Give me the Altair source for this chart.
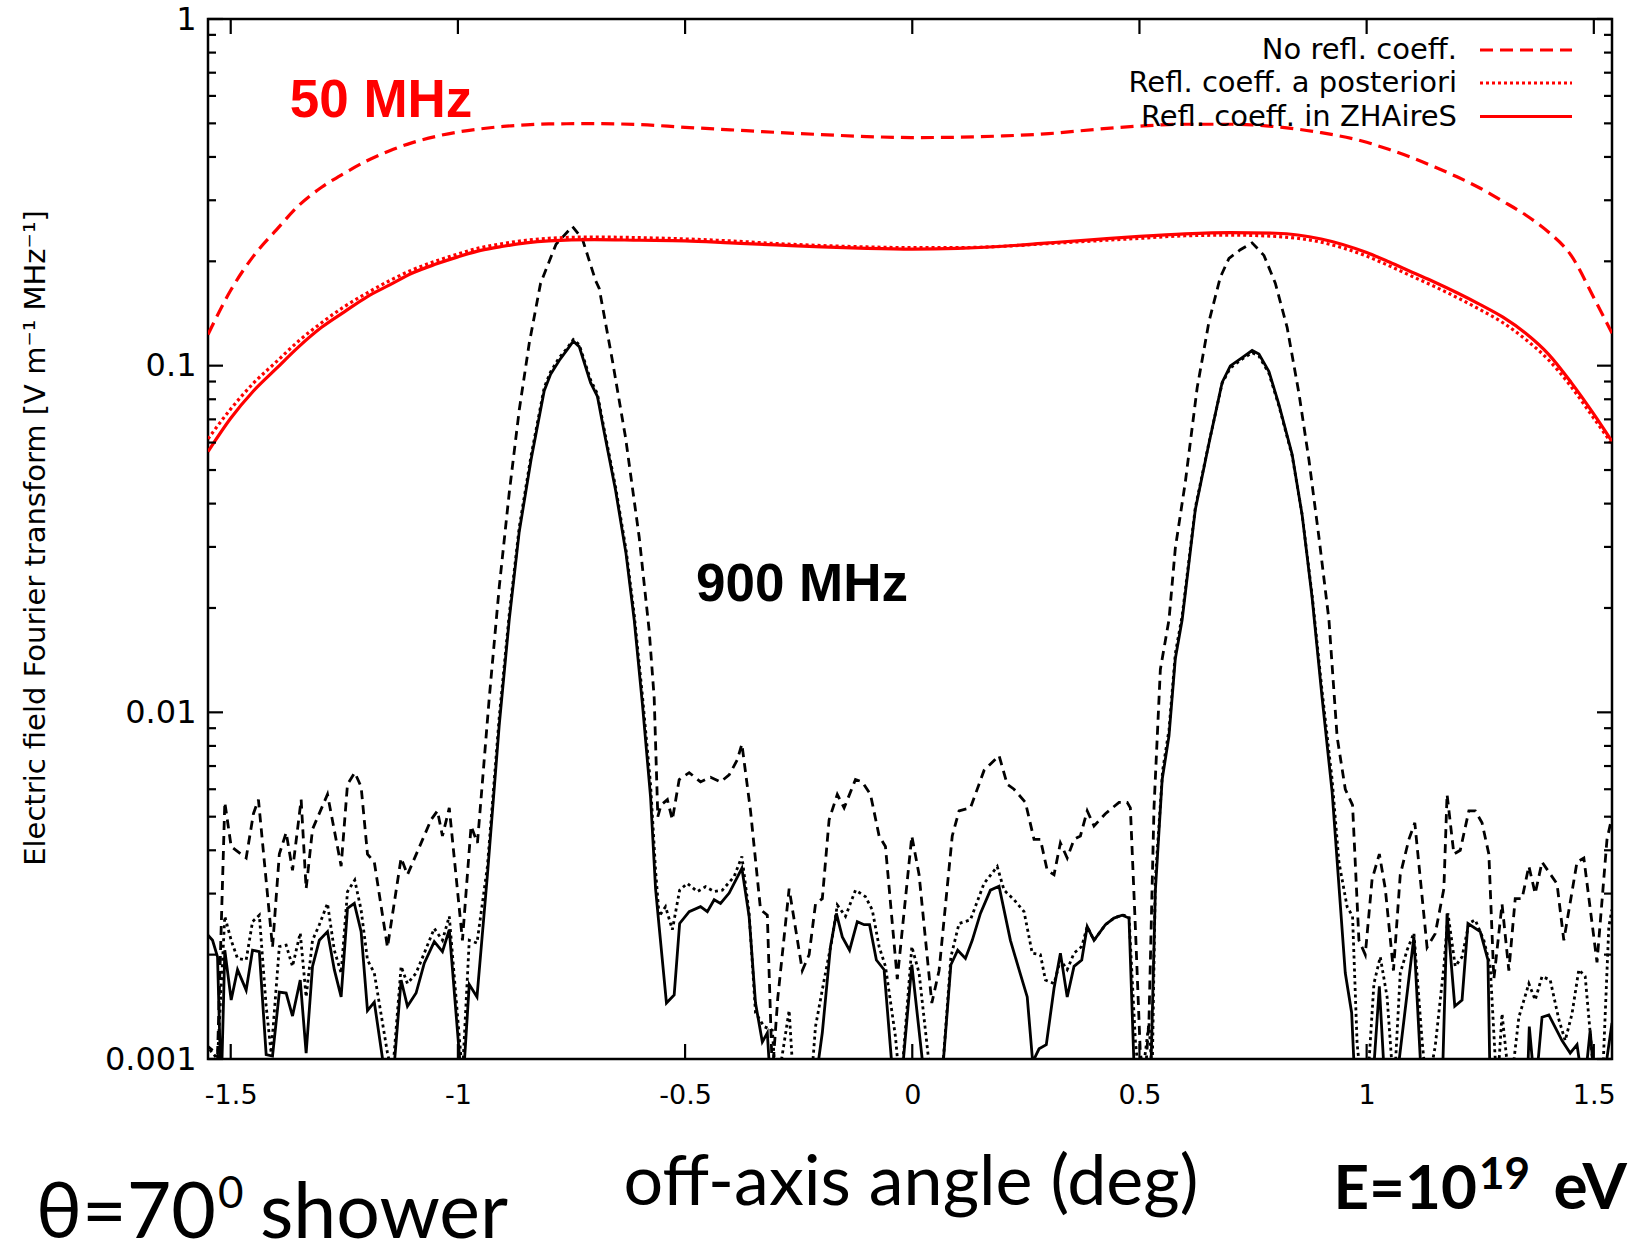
import altair as alt
import pandas as pd

# ---------------- data ----------------
# 50 MHz curves: (angle, no refl. coeff., refl. coeff. a posteriori, refl. coeff. in ZHAireS)
red_curves = [
    (-1.55, 0.123, 0.0615, 0.0565), (-1.50, 0.165, 0.075, 0.0705), (-1.45, 0.207, 0.089, 0.0845),
    (-1.40, 0.246, 0.1025, 0.098), (-1.35, 0.290, 0.118, 0.1135), (-1.30, 0.327, 0.133, 0.129),
    (-1.25, 0.359, 0.148, 0.143), (-1.20, 0.390, 0.162, 0.158), (-1.15, 0.417, 0.176, 0.171),
    (-1.10, 0.440, 0.189, 0.185), (-1.05, 0.458, 0.200, 0.196), (-1.00, 0.472, 0.210, 0.206),
    (-0.95, 0.482, 0.219, 0.215), (-0.90, 0.490, 0.225, 0.221), (-0.85, 0.495, 0.230, 0.226),
    (-0.80, 0.498, 0.233, 0.229), (-0.70, 0.499, 0.235, 0.231), (-0.60, 0.496, 0.234, 0.230),
    (-0.50, 0.487, 0.232, 0.229), (-0.40, 0.479, 0.229, 0.226), (-0.30, 0.471, 0.225, 0.223),
    (-0.20, 0.464, 0.222, 0.220), (-0.10, 0.458, 0.220, 0.218), (0.00, 0.455, 0.219, 0.217),
    (0.10, 0.456, 0.219, 0.218), (0.20, 0.460, 0.221, 0.221), (0.30, 0.467, 0.225, 0.226),
    (0.40, 0.480, 0.229, 0.231), (0.50, 0.491, 0.233, 0.236), (0.60, 0.497, 0.237, 0.240),
    (0.70, 0.497, 0.238, 0.242), (0.80, 0.489, 0.236, 0.241), (0.90, 0.470, 0.227, 0.232),
    (1.00, 0.441, 0.207, 0.212), (1.05, 0.420, 0.194, 0.199), (1.10, 0.398, 0.181, 0.186),
    (1.15, 0.374, 0.169, 0.174), (1.20, 0.350, 0.157, 0.162), (1.25, 0.325, 0.145, 0.150),
    (1.30, 0.298, 0.133, 0.138), (1.35, 0.272, 0.119, 0.124), (1.40, 0.243, 0.104, 0.108),
    (1.45, 0.208, 0.087, 0.0895), (1.50, 0.157, 0.0705, 0.0725), (1.54, 0.124, 0.0595, 0.0605),
]

# 900 MHz, no reflection coefficient (angle, field)
black_no_refl = [
    (-1.555, 0.0011), (-1.529, 0.00103), (-1.513, 0.0055), (-1.499, 0.0041), (-1.466, 0.0038),
    (-1.450, 0.0051), (-1.439, 0.0056), (-1.408, 0.0021), (-1.393, 0.0039), (-1.378, 0.0045),
    (-1.364, 0.0035), (-1.345, 0.0056), (-1.334, 0.0031), (-1.320, 0.0046), (-1.287, 0.0058),
    (-1.257, 0.0036), (-1.243, 0.0062), (-1.227, 0.0067), (-1.213, 0.0061), (-1.199, 0.0039),
    (-1.184, 0.0037), (-1.155, 0.0021), (-1.125, 0.0038), (-1.111, 0.0034), (-1.059, 0.0049),
    (-1.045, 0.0052), (-1.034, 0.0044), (-1.019, 0.0053), (-0.990, 0.0022), (-0.971, 0.0047),
    (-0.957, 0.0042), (-0.931, 0.0110), (-0.909, 0.0230), (-0.887, 0.0430), (-0.865, 0.0745),
    (-0.843, 0.116), (-0.818, 0.173), (-0.784, 0.224), (-0.748, 0.252), (-0.726, 0.232),
    (-0.697, 0.176), (-0.689, 0.167), (-0.660, 0.1035), (-0.631, 0.062), (-0.601, 0.032),
    (-0.579, 0.0172), (-0.568, 0.0110), (-0.560, 0.0050), (-0.553, 0.0054), (-0.539, 0.0056),
    (-0.528, 0.0049), (-0.513, 0.0064), (-0.491, 0.0067), (-0.466, 0.0063), (-0.444, 0.0065),
    (-0.422, 0.0063), (-0.403, 0.0066), (-0.385, 0.0073), (-0.375, 0.0081), (-0.356, 0.0052),
    (-0.334, 0.0027), (-0.319, 0.0026), (-0.308, 0.0009), (-0.296, 0.0015), (-0.271, 0.0031),
    (-0.242, 0.0018), (-0.227, 0.0020), (-0.213, 0.0028), (-0.198, 0.0029), (-0.183, 0.0049),
    (-0.165, 0.0058), (-0.150, 0.0053), (-0.125, 0.0064), (-0.110, 0.0063), (-0.092, 0.0058),
    (-0.073, 0.0044), (-0.059, 0.0041), (-0.033, 0.0017), (-0.001, 0.0044), (0.015, 0.0034),
    (0.043, 0.00145), (0.059, 0.0018), (0.088, 0.0044), (0.103, 0.0052), (0.128, 0.0053),
    (0.158, 0.0068), (0.191, 0.0075), (0.209, 0.0062), (0.224, 0.0060), (0.249, 0.0055),
    (0.268, 0.0043), (0.282, 0.0043), (0.297, 0.0035), (0.312, 0.0034), (0.326, 0.0042),
    (0.341, 0.0038), (0.356, 0.0043), (0.370, 0.0044), (0.385, 0.0052), (0.400, 0.0047),
    (0.425, 0.0051), (0.455, 0.0055), (0.473, 0.0055), (0.480, 0.0053), (0.491, 0.0024),
    (0.502, 0.00103), (0.513, 0.0009), (0.521, 0.0013), (0.532, 0.0053), (0.546, 0.0133),
    (0.565, 0.0185), (0.579, 0.0298), (0.601, 0.0462), (0.627, 0.0863), (0.653, 0.134),
    (0.678, 0.180), (0.697, 0.204), (0.722, 0.216), (0.748, 0.226), (0.774, 0.208),
    (0.799, 0.173), (0.825, 0.129), (0.851, 0.0832), (0.873, 0.0535), (0.895, 0.032),
    (0.917, 0.0185), (0.935, 0.0085), (0.953, 0.0060), (0.969, 0.0054), (0.983, 0.0022),
    (0.997, 0.0020), (1.012, 0.0033), (1.028, 0.0039), (1.041, 0.0031), (1.059, 0.0018),
    (1.074, 0.0034), (1.093, 0.0043), (1.106, 0.0048), (1.133, 0.0021), (1.151, 0.0023),
    (1.170, 0.0031), (1.177, 0.0058), (1.192, 0.0039), (1.206, 0.0040), (1.225, 0.0052),
    (1.239, 0.0052), (1.254, 0.0048), (1.269, 0.0039), (1.280, 0.0017), (1.298, 0.0028),
    (1.313, 0.0018), (1.327, 0.0029), (1.342, 0.0029), (1.357, 0.0036), (1.371, 0.0030),
    (1.386, 0.0037), (1.419, 0.0032), (1.434, 0.0022), (1.463, 0.0037), (1.478, 0.0038),
    (1.507, 0.0019), (1.529, 0.0043), (1.540, 0.0050),
]

# 900 MHz, reflection coefficient applied a posteriori
black_posteriori = [
    (-1.555, 0.0011), (-1.529, 0.0010), (-1.513, 0.00258), (-1.499, 0.0022), (-1.485, 0.00195),
    (-1.466, 0.00193), (-1.452, 0.00249), (-1.437, 0.0026), (-1.422, 0.00142), (-1.411, 0.00104),
    (-1.393, 0.00211), (-1.378, 0.00213), (-1.364, 0.00185), (-1.347, 0.00231), (-1.334, 0.00151),
    (-1.320, 0.0022), (-1.305, 0.00244), (-1.287, 0.00281), (-1.272, 0.00206), (-1.257, 0.00177),
    (-1.243, 0.00304), (-1.227, 0.00328), (-1.213, 0.00269), (-1.199, 0.00193), (-1.184, 0.00177),
    (-1.155, 0.00104), (-1.144, 0.0009), (-1.125, 0.00185), (-1.111, 0.00165), (-1.092, 0.00177),
    (-1.074, 0.00202), (-1.052, 0.00238), (-1.034, 0.0022), (-1.019, 0.00258), (-0.990, 0.0009),
    (-0.975, 0.0022), (-0.958, 0.00216), (-0.935, 0.0036), (-0.909, 0.0097), (-0.887, 0.0192),
    (-0.865, 0.0342), (-0.839, 0.055), (-0.810, 0.0865), (-0.796, 0.096), (-0.777, 0.1055),
    (-0.759, 0.1125), (-0.746, 0.119), (-0.733, 0.115), (-0.708, 0.091), (-0.693, 0.083),
    (-0.678, 0.0655), (-0.653, 0.0447), (-0.630, 0.0295), (-0.612, 0.0192), (-0.594, 0.0112),
    (-0.576, 0.0062), (-0.565, 0.0035), (-0.557, 0.00258), (-0.543, 0.00275), (-0.528, 0.00236),
    (-0.512, 0.00307), (-0.495, 0.00321), (-0.473, 0.00304), (-0.455, 0.00314), (-0.436, 0.00304),
    (-0.418, 0.00307), (-0.392, 0.00336), (-0.375, 0.00384), (-0.359, 0.00263), (-0.345, 0.00136),
    (-0.326, 0.00124), (-0.308, 0.00121), (-0.299, 0.0008), (-0.271, 0.00138), (-0.260, 0.0008),
    (-0.224, 0.0008), (-0.213, 0.00124), (-0.194, 0.00169), (-0.177, 0.0022), (-0.165, 0.00278),
    (-0.147, 0.00258), (-0.125, 0.00307), (-0.103, 0.00294), (-0.088, 0.00269), (-0.073, 0.00211),
    (-0.059, 0.00185), (-0.037, 0.00116), (-0.026, 0.0008), (-0.001, 0.00211), (0.015, 0.00177),
    (0.044, 0.0008), (0.063, 0.0008), (0.085, 0.00197), (0.103, 0.00246), (0.128, 0.00252),
    (0.158, 0.00321), (0.187, 0.00359), (0.202, 0.00307), (0.224, 0.00288), (0.246, 0.00266),
    (0.264, 0.00202), (0.282, 0.0020), (0.293, 0.00169), (0.312, 0.00165), (0.326, 0.00193),
    (0.341, 0.00181), (0.356, 0.00202), (0.373, 0.00211), (0.385, 0.00241), (0.400, 0.0022),
    (0.425, 0.00244), (0.444, 0.00255), (0.462, 0.0026), (0.477, 0.00258), (0.491, 0.00113),
    (0.502, 0.0008), (0.521, 0.00127), (0.528, 0.0009), (0.535, 0.0033), (0.551, 0.0068),
    (0.565, 0.0089), (0.579, 0.0148), (0.594, 0.0190), (0.623, 0.0390), (0.653, 0.0600),
    (0.682, 0.0890), (0.700, 0.0985), (0.726, 0.1045), (0.748, 0.1090), (0.763, 0.1065),
    (0.785, 0.0950), (0.807, 0.0765), (0.836, 0.0550), (0.858, 0.0372), (0.880, 0.0218),
    (0.902, 0.0115), (0.924, 0.0064), (0.939, 0.0037), (0.957, 0.00275), (0.969, 0.00258),
    (0.979, 0.00111), (0.990, 0.0008), (1.001, 0.0008), (1.016, 0.00165), (1.030, 0.00197),
    (1.045, 0.00151), (1.060, 0.0008), (1.074, 0.00177), (1.089, 0.00206), (1.104, 0.00231),
    (1.122, 0.00113), (1.133, 0.0008), (1.151, 0.00109), (1.170, 0.00185), (1.179, 0.00263),
    (1.195, 0.00185), (1.210, 0.00197), (1.225, 0.00246), (1.239, 0.00252), (1.258, 0.0022),
    (1.272, 0.00185), (1.287, 0.0008), (1.298, 0.00135), (1.316, 0.0008), (1.335, 0.00132),
    (1.357, 0.00165), (1.371, 0.00148), (1.386, 0.00173), (1.404, 0.00169), (1.423, 0.0013),
    (1.437, 0.00113), (1.452, 0.00135), (1.467, 0.00181), (1.481, 0.00173), (1.492, 0.00119),
    (1.503, 0.0008), (1.518, 0.0008), (1.533, 0.00241), (1.540, 0.0027),
]

# 900 MHz, reflection coefficient in ZHAireS
black_zhaires = [
    (-1.553, 0.0023), (-1.540, 0.0022), (-1.529, 0.00197), (-1.521, 0.0008), (-1.513, 0.00206),
    (-1.499, 0.00148), (-1.485, 0.00181), (-1.466, 0.00158), (-1.452, 0.00206), (-1.437, 0.00204),
    (-1.422, 0.00103), (-1.408, 0.00102), (-1.393, 0.00156), (-1.378, 0.00155), (-1.364, 0.00133),
    (-1.347, 0.00169), (-1.334, 0.00104), (-1.320, 0.00185), (-1.305, 0.0022), (-1.287, 0.00233),
    (-1.272, 0.00181), (-1.257, 0.00151), (-1.243, 0.00272), (-1.228, 0.00281), (-1.213, 0.00233),
    (-1.199, 0.00138), (-1.184, 0.00146), (-1.155, 0.0008), (-1.145, 0.0008), (-1.125, 0.00169),
    (-1.111, 0.00142), (-1.092, 0.00155), (-1.074, 0.00189), (-1.052, 0.00218), (-1.034, 0.00204),
    (-1.019, 0.00236), (-0.990, 0.0008), (-0.975, 0.00164), (-0.958, 0.00151), (-0.935, 0.0034),
    (-0.909, 0.0092), (-0.887, 0.0185), (-0.865, 0.0332), (-0.839, 0.0535), (-0.810, 0.0847),
    (-0.796, 0.0944), (-0.777, 0.1035), (-0.759, 0.1114), (-0.746, 0.1177), (-0.733, 0.1135),
    (-0.708, 0.0893), (-0.693, 0.0816), (-0.678, 0.0643), (-0.653, 0.0437), (-0.630, 0.0287),
    (-0.612, 0.0185), (-0.594, 0.0106), (-0.576, 0.0057), (-0.565, 0.0031), (-0.557, 0.0024),
    (-0.541, 0.00145), (-0.524, 0.00153), (-0.512, 0.00246), (-0.491, 0.00266), (-0.466, 0.00275),
    (-0.451, 0.00266), (-0.436, 0.00288), (-0.422, 0.00281), (-0.403, 0.00301), (-0.375, 0.00355),
    (-0.359, 0.00257), (-0.345, 0.00145), (-0.330, 0.00112), (-0.319, 0.00119), (-0.311, 0.0008),
    (-0.216, 0.0008), (-0.198, 0.00119), (-0.180, 0.00211), (-0.167, 0.00263), (-0.154, 0.00225),
    (-0.138, 0.00206), (-0.121, 0.00249), (-0.106, 0.00244), (-0.094, 0.00244), (-0.079, 0.00193),
    (-0.062, 0.00181), (-0.040, 0.0008), (-0.026, 0.0008), (-0.001, 0.00187), (0.030, 0.0008),
    (0.063, 0.0008), (0.085, 0.00187), (0.100, 0.00206), (0.117, 0.00195), (0.132, 0.0022),
    (0.150, 0.00263), (0.172, 0.00307), (0.191, 0.00315), (0.216, 0.0022), (0.235, 0.00181),
    (0.253, 0.00151), (0.265, 0.00098), (0.279, 0.00107), (0.295, 0.0011), (0.312, 0.0016),
    (0.326, 0.00202), (0.341, 0.00151), (0.356, 0.00185), (0.373, 0.00193), (0.385, 0.00241),
    (0.400, 0.0022), (0.425, 0.00244), (0.444, 0.00255), (0.462, 0.0026), (0.477, 0.00255),
    (0.490, 0.0008), (0.524, 0.0008), (0.535, 0.00306), (0.550, 0.0064), (0.565, 0.00855),
    (0.579, 0.0143), (0.594, 0.0185), (0.623, 0.0385), (0.653, 0.0597), (0.682, 0.0895),
    (0.700, 0.0998), (0.726, 0.1055), (0.748, 0.1106), (0.763, 0.108), (0.785, 0.0962),
    (0.807, 0.0772), (0.836, 0.0555), (0.858, 0.0371), (0.880, 0.0214), (0.902, 0.0110),
    (0.924, 0.0059), (0.953, 0.00177), (0.967, 0.00136), (0.975, 0.0008), (1.012, 0.0008),
    (1.028, 0.00162), (1.041, 0.0008), (1.063, 0.0008), (1.104, 0.00225), (1.122, 0.0008),
    (1.166, 0.0008), (1.177, 0.00263), (1.194, 0.00142), (1.210, 0.00148), (1.223, 0.00246),
    (1.250, 0.00233), (1.267, 0.00193), (1.272, 0.0008), (1.353, 0.0008), (1.358, 0.00124),
    (1.371, 0.0008), (1.386, 0.00132), (1.401, 0.00134), (1.430, 0.00113), (1.448, 0.00104),
    (1.463, 0.0011), (1.478, 0.0008), (1.492, 0.00121), (1.503, 0.0008), (1.518, 0.0008),
    (1.540, 0.00127),
]

legend_labels = ["No refl. coeff.", "Refl. coeff. a posteriori", "Refl. coeff. in ZHAireS"]
x_tick_values = [-1.5, -1.0, -0.5, 0.0, 0.5, 1.0, 1.5]
y_tick_values = [0.001, 0.01, 0.1, 1.0]
y_minor_values = [k * 10.0 ** e for e in (-3, -2, -1) for k in range(2, 10)]

# ---------------- chart ----------------
W, H = 1404, 1040
xscale = alt.Scale(domain=[-1.55, 1.54], nice=False, zero=False)
yscale = alt.Scale(type="log", domain=[0.001, 1], nice=False)
TICKFONT = "DejaVu Sans"

XAXIS = alt.Axis(values=x_tick_values, labelExpr="datum.value + ''", ticks=False, tickSize=0,
                 domain=False, grid=False, labelFont=TICKFONT, labelFontSize=27,
                 labelColor="black", labelPadding=23, title=None, labelFlush=False)
YAXIS = alt.Axis(values=y_tick_values, labelExpr="datum.value + ''", ticks=False, tickSize=0,
                 domain=False, grid=False, labelFont=TICKFONT, labelFontSize=32,
                 labelColor="black", labelPadding=12, title=None, labelFlush=False)


def X(field):
    return alt.X(field, scale=xscale, axis=XAXIS)


def Y(field):
    return alt.Y(field, scale=yscale, axis=YAXIS)


def series(pairs, color, dash, width, interp="linear"):
    df = pd.DataFrame(pairs, columns=["x", "y"])
    mk = dict(color=color, strokeWidth=width, clip=True, interpolate=interp, strokeCap="butt")
    if dash:
        mk["strokeDash"] = dash
    return alt.Chart(df).mark_line(**mk).encode(x=X("x:Q"), y=Y("y:Q"), order="x:Q")


red_df = pd.DataFrame(red_curves, columns=["x", "no_refl", "posteriori", "zhaires"])

layers = []

# black 900 MHz curves
layers.append(series(black_no_refl, "black", [9, 6], 2.8))
layers.append(series(black_posteriori, "black", [3, 3.5], 2.8))
layers.append(series(black_zhaires, "black", None, 2.8))

# red 50 MHz curves
for col, dash in [("no_refl", [13, 7]), ("posteriori", [3, 3]), ("zhaires", None)]:
    mk = dict(color="#ff0000", strokeWidth=3.2, clip=True, interpolate="monotone", strokeCap="butt")
    if dash:
        mk["strokeDash"] = dash
    layers.append(alt.Chart(red_df).mark_line(**mk).encode(
        x=X("x:Q"), y=Y(f"{col}:Q"), order="x:Q"))

# inward ticks (gnuplot style, mirrored)
ymaj = pd.DataFrame({"v": y_tick_values})
ymin = pd.DataFrame({"v": y_minor_values})
xmaj = pd.DataFrame({"v": x_tick_values})
for df, ln in [(ymaj, 15), (ymin, 8)]:
    layers.append(alt.Chart(df).mark_rule(color="black", strokeWidth=2.2).encode(
        y=Y("v:Q"), x=alt.value(0), x2=alt.value(ln)))
    layers.append(alt.Chart(df).mark_rule(color="black", strokeWidth=2.2).encode(
        y=Y("v:Q"), x=alt.value(W), x2=alt.value(W - ln)))
layers.append(alt.Chart(xmaj).mark_rule(color="black", strokeWidth=2.2).encode(
    x=X("v:Q"), y=alt.value(H), y2=alt.value(H - 15)))
layers.append(alt.Chart(xmaj).mark_rule(color="black", strokeWidth=2.2).encode(
    x=X("v:Q"), y=alt.value(0), y2=alt.value(15)))

# legend (labels left of samples)
leg_rows_y = [31, 64, 97.5]
leg_dash = [[13, 7], [3, 3], None]
for i, lab in enumerate(legend_labels):
    d = pd.DataFrame({"t": [lab]})
    layers.append(alt.Chart(d).mark_text(
        align="right", baseline="middle", font=TICKFONT, fontSize=29, color="black").encode(
        text="t:N", x=alt.value(1249), y=alt.value(leg_rows_y[i])))
    mk = dict(color="#ff0000", strokeWidth=3.2, strokeCap="butt")
    if leg_dash[i]:
        mk["strokeDash"] = leg_dash[i]
    layers.append(alt.Chart(d).mark_rule(**mk).encode(
        x=alt.value(1272), x2=alt.value(1364), y=alt.value(leg_rows_y[i])))


def label(txt, x, y, **kw):
    d = pd.DataFrame({"t": [txt]})
    return alt.Chart(d).mark_text(**kw).encode(text="t:N", x=alt.value(x), y=alt.value(y))


# in-plot annotations
layers.append(label("50 MHz", 173, 97.5, align="center", baseline="alphabetic",
                    font="Liberation Sans", fontWeight="bold", fontSize=53, color="#ff0000"))
layers.append(label("900 MHz", 594, 582, align="center", baseline="alphabetic",
                    font="Liberation Sans", fontWeight="bold", fontSize=53, color="black"))

# y axis title
layers.append(label("Electric field Fourier transform [V m\u207b\u00b9 MHz\u207b\u00b9]", -172, 519,
                    align="center", baseline="middle", angle=270, font=TICKFONT, fontSize=29,
                    color="black"))

# bottom texts
BIG = "Lato"
layers.append(label("off-axis angle (deg)", 703, 1186, align="center", baseline="alphabetic",
                    font=BIG, fontSize=70, color="black"))
layers.append(label("\u03b8=70", -172, 1219, align="left", baseline="alphabetic",
                    font=BIG, fontSize=77, color="black"))
layers.append(label("0", 10, 1189, align="left", baseline="alphabetic",
                    font=BIG, fontSize=44, color="black"))
layers.append(label("shower", 52, 1219, align="left", baseline="alphabetic",
                    font=BIG, fontSize=77, color="black"))
layers.append(label("E=10", 1269, 1190, align="right", baseline="alphabetic",
                    font=BIG, fontWeight="bold", fontSize=62, color="black"))
layers.append(label("19", 1271, 1170, align="left", baseline="alphabetic",
                    font=BIG, fontWeight="bold", fontSize=44, color="black"))
layers.append(label("eV", 1419, 1190, align="right", baseline="alphabetic",
                    font=BIG, fontWeight="bold", fontSize=64, color="black"))

chart = alt.layer(*layers).properties(
    width=W, height=H,
    padding={"left": 208, "top": 19, "right": 19, "bottom": 197},
    autosize=alt.AutoSizeParams(type="none"),
    background="white",
).configure_view(stroke="black", strokeWidth=2.5)

chart.save("out.html", embed_options={"renderer": "svg", "actions": False})
